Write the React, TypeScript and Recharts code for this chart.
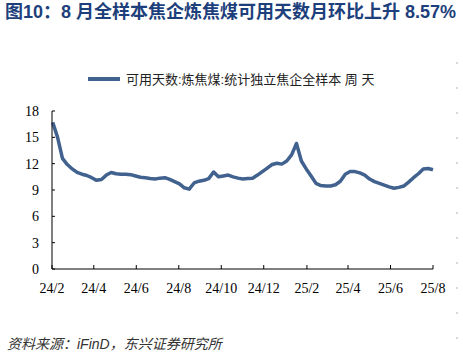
import { Line, LineChart, XAxis, YAxis } from "recharts";

// weekly observations
const weeks = [
  "2024-02-02", "2024-02-09", "2024-02-16", "2024-02-23", "2024-03-01", "2024-03-08", "2024-03-15", "2024-03-22",
  "2024-03-29", "2024-04-05", "2024-04-12", "2024-04-19", "2024-04-26", "2024-05-03", "2024-05-10", "2024-05-17",
  "2024-05-24", "2024-05-31", "2024-06-07", "2024-06-14", "2024-06-21", "2024-06-28", "2024-07-05", "2024-07-12",
  "2024-07-19", "2024-07-26", "2024-08-02", "2024-08-09", "2024-08-16", "2024-08-23", "2024-08-30", "2024-09-06",
  "2024-09-13", "2024-09-20", "2024-09-27", "2024-10-04", "2024-10-11", "2024-10-18", "2024-10-25", "2024-11-01",
  "2024-11-08", "2024-11-15", "2024-11-22", "2024-11-29", "2024-12-06", "2024-12-13", "2024-12-20", "2024-12-27",
  "2025-01-03", "2025-01-10", "2025-01-17", "2025-01-24", "2025-01-31", "2025-02-07", "2025-02-14", "2025-02-21",
  "2025-02-28", "2025-03-07", "2025-03-14", "2025-03-21", "2025-03-28", "2025-04-04", "2025-04-11", "2025-04-18",
  "2025-04-25", "2025-05-02", "2025-05-09", "2025-05-16", "2025-05-23", "2025-05-30", "2025-06-06", "2025-06-13",
  "2025-06-20", "2025-06-27", "2025-07-04", "2025-07-11", "2025-07-18", "2025-07-25", "2025-08-01",
];

// 可用天数:炼焦煤:统计独立焦企全样本 (天)
const availableDays = [
  16.7, 15.0, 12.6, 11.9, 11.4, 11.0, 10.8, 10.65, 10.4, 10.1, 10.2, 10.7, 11.0, 10.85, 10.8, 10.8,
  10.75, 10.6, 10.45, 10.4, 10.3, 10.25, 10.35, 10.4, 10.2, 9.95, 9.7, 9.25, 9.1, 9.8, 10.0, 10.1,
  10.3, 11.05, 10.5, 10.6, 10.7, 10.5, 10.35, 10.25, 10.3, 10.35, 10.7, 11.1, 11.5, 11.9, 12.05, 11.95,
  12.3, 13.0, 14.3, 12.3, 11.4, 10.6, 9.75, 9.5, 9.45, 9.45, 9.6, 10.0, 10.8, 11.1, 11.1, 10.95,
  10.7, 10.25, 9.95, 9.75, 9.55, 9.35, 9.2, 9.3, 9.45, 9.9, 10.4, 10.85, 11.4, 11.45, 11.3,
];

const tickDates = [
  "2024-02-01", "2024-04-01", "2024-06-01", "2024-08-01", "2024-10-01",
  "2024-12-01", "2025-02-01", "2025-04-01", "2025-06-01", "2025-08-01",
];
const tickLabels = ["24/2", "24/4", "24/6", "24/8", "24/10", "24/12", "25/2", "25/4", "25/6", "25/8"];
const yTicks = [0, 3, 6, 9, 12, 15, 18];

const seriesName = "可用天数:炼焦煤:统计独立焦企全样本 周 天";
const lineColor = "#41618f";

const data = weeks.map((w, i) => ({ t: Date.parse(w), v: availableDays[i] }));
const xTicks = tickDates.map((d) => Date.parse(d));

const serif = "'Liberation Serif', 'Times New Roman', serif";
const cjk = "'Liberation Sans', 'Noto Sans CJK SC', sans-serif";

export default function App() {
  return (
    <div
      style={{
        position: "absolute",
        left: 0,
        top: 0,
        width: 463,
        height: 357,
        background: "#fff",
        overflow: "hidden",
      }}
    >
      <div
        style={{
          position: "absolute",
          left: 5,
          top: 2,
          fontFamily: cjk,
          fontSize: 18,
          fontWeight: 700,
          lineHeight: "21px",
          color: "#1d3f7c",
          whiteSpace: "nowrap",
        }}
      >
        图10：8 月全样本焦企炼焦煤可用天数月环比上升 8.57%
      </div>

      <div
        style={{
          position: "absolute",
          left: 88,
          top: 69,
          display: "flex",
          alignItems: "center",
          fontFamily: cjk,
          fontSize: 13,
          color: "#222",
          whiteSpace: "nowrap",
        }}
      >
        <span style={{ display: "inline-block", width: 32, height: 4, background: lineColor, marginRight: 6 }} />
        {seriesName}
      </div>

      <div style={{ position: "absolute", left: 0, top: 0 }}>
        <LineChart width={463} height={357} data={data} margin={{ top: 111, right: 30, bottom: 58, left: 12 }}>
          <XAxis
            type="number"
            dataKey="t"
            domain={[xTicks[0], xTicks[xTicks.length - 1]]}
            ticks={xTicks}
            interval={0}
            tickFormatter={(v: number) => tickLabels[xTicks.indexOf(v)] ?? ""}
            height={30}
            axisLine={{ stroke: "#000" }}
            tickLine={{ stroke: "#000" }}
            tickSize={-4}
            tickMargin={18}
            tick={{ fontSize: 14, fill: "#000", fontFamily: serif }}
          />
          <YAxis
            domain={[0, 18]}
            ticks={yTicks}
            interval={0}
            width={40}
            axisLine={{ stroke: "#000" }}
            tickLine={{ stroke: "#000" }}
            tickSize={-3}
            tickMargin={16}
            tick={{ fontSize: 14, fill: "#000", fontFamily: serif }}
          />
          <Line
            type="linear"
            dataKey="v"
            stroke={lineColor}
            strokeWidth={3.5}
            strokeLinejoin="round"
            dot={false}
            activeDot={false}
            isAnimationActive={false}
          />
        </LineChart>
      </div>

      <div
        style={{
          position: "absolute",
          left: 7,
          top: 333,
          fontFamily: cjk,
          fontSize: 14,
          fontStyle: "italic",
          color: "#333",
          whiteSpace: "nowrap",
        }}
      >
        资料来源：iFinD，东兴证券研究所
      </div>

      <div
        style={{
          position: "absolute",
          left: 456,
          top: 62,
          width: 2,
          height: 280,
          backgroundImage: "repeating-linear-gradient(to bottom, #d8d8d8 0 2px, transparent 2px 25px)",
        }}
      />
    </div>
  );
}
